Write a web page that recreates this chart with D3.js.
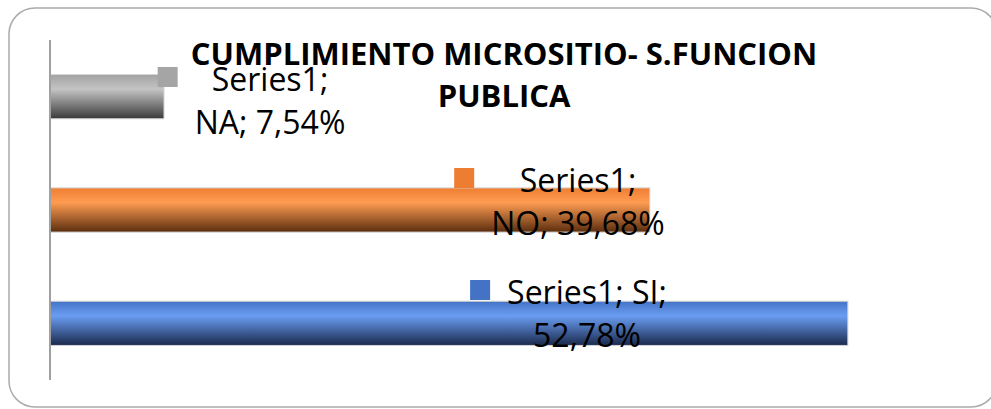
<!DOCTYPE html>
<html>
<head>
<meta charset="utf-8">
<script src="https://cdn.jsdelivr.net/npm/d3@7"></script>
<style>
  html, body { margin: 0; padding: 0; background: #fff; }
  svg { display: block; }
</style>
</head>
<body>
<div id="chart"></div>
<script>
// data
var seriesName = 'Series1';
var categories = ['NA', 'NO', 'SI'];
var values = [7.54, 39.68, 52.78];
var valueLabels = ['7,54%', '39,68%', '52,78%'];
var titleLines = ['CUMPLIMIENTO MICROSITIO- S.FUNCION', 'PUBLICA'];

// label layout (Excel labels were dragged by hand)
var labelCenterX = [270, 578, 587];
var labelBaseY = [91, 192, 304];
var labelLines = [
  [seriesName + ';', 'NA; ' + valueLabels[0]],
  [seriesName + ';', 'NO; ' + valueLabels[1]],
  [seriesName + '; SI;', valueLabels[2]]
];

var width = 991;
var height = 409;
var colors = {
  NA: ['#a2a2a2', '#c4c4c4', '#3a3a3a'],
  NO: ['#ee7e32', '#ff9c52', '#5a2d0e'],
  SI: ['#4473c5', '#6a9df2', '#1a294c']
};
var keyColors = { NA: '#a5a5a5', NO: '#ed7d31', SI: '#4472c4' };

var svg = d3.select('#chart').append('svg')
  .attr('width', width)
  .attr('height', height);

// gradients
var defs = svg.append('defs');
categories.forEach(function (c) {
  var g = defs.append('linearGradient')
    .attr('id', 'grad-' + c)
    .attr('x1', 0).attr('y1', 0).attr('x2', 0).attr('y2', 1);
  g.append('stop').attr('offset', '0%').attr('stop-color', colors[c][0]);
  g.append('stop').attr('offset', '33%').attr('stop-color', colors[c][1]);
  g.append('stop').attr('offset', '100%').attr('stop-color', colors[c][2]);
});

// frame
svg.append('rect')
  .attr('x', 9)
  .attr('y', 8)
  .attr('width', 988)
  .attr('height', 399)
  .attr('rx', 26)
  .style('fill', '#fff')
  .style('stroke', '#ababab')
  .style('stroke-width', 1.5);

var x = d3.scaleLinear()
  .domain([0, 60])
  .range([50, 957]);

var y = d3.scaleBand()
  .domain(categories)
  .range([40, 380])
  .paddingInner(0.61)
  .paddingOuter(0.305);

// bars
svg.append('g')
  .selectAll('rect')
  .data(categories)
  .enter()
  .append('rect')
  .attr('x', x(0))
  .attr('y', function (d) { return y(d); })
  .attr('width', function (d, i) { return x(values[i]) - x(0); })
  .attr('height', y.bandwidth())
  .style('fill', function (d) { return 'url(#grad-' + d + ')'; })
  .style('stroke', '#d4d4d4')
  .style('stroke-width', 1);

// axis line
svg.append('g')
  .attr('transform', 'translate(' + x(0) + ',0)')
  .call(d3.axisLeft(y).tickSize(0).tickFormat(''))
  .call(function (g) {
    g.select('.domain')
      .attr('d', 'M0,' + 40 + 'V' + 380)
      .style('stroke', '#a0a0a0')
      .style('stroke-width', 2);
  });

// title
svg.append('text')
  .attr('x', 504)
  .attr('y', 65)
  .attr('text-anchor', 'middle')
  .style('font-family', '"Open Sans", sans-serif')
  .style('font-weight', 'bold')
  .style('font-size', '31px')
  .style('fill', '#000')
  .selectAll('tspan')
  .data(titleLines)
  .enter()
  .append('tspan')
  .attr('x', 504)
  .attr('dy', function (d, i) { return i ? 42 : 0; })
  .text(function (d) { return d; });

// data labels with legend keys
var labels = svg.append('g')
  .selectAll('g')
  .data(categories)
  .enter()
  .append('g');

labels.each(function (c, i) {
  var g = d3.select(this);
  var t = g.append('text')
    .attr('text-anchor', 'middle')
    .style('font-family', '"Open Sans", sans-serif')
    .style('font-size', '32px')
    .style('fill', '#000');
  var maxW = 0;
  labelLines[i].forEach(function (line, j) {
    var ts = t.append('tspan')
      .attr('x', labelCenterX[i])
      .attr('y', labelBaseY[i] + j * 43)
      .text(line);
    maxW = Math.max(maxW, ts.node().getComputedTextLength());
  });
  var left = labelCenterX[i] - maxW / 2;
  g.insert('rect', 'text')
    .attr('x', left - 37)
    .attr('y', labelBaseY[i] - 24)
    .attr('width', 20)
    .attr('height', 20)
    .style('fill', keyColors[c]);
});
</script>
</body>
</html>
